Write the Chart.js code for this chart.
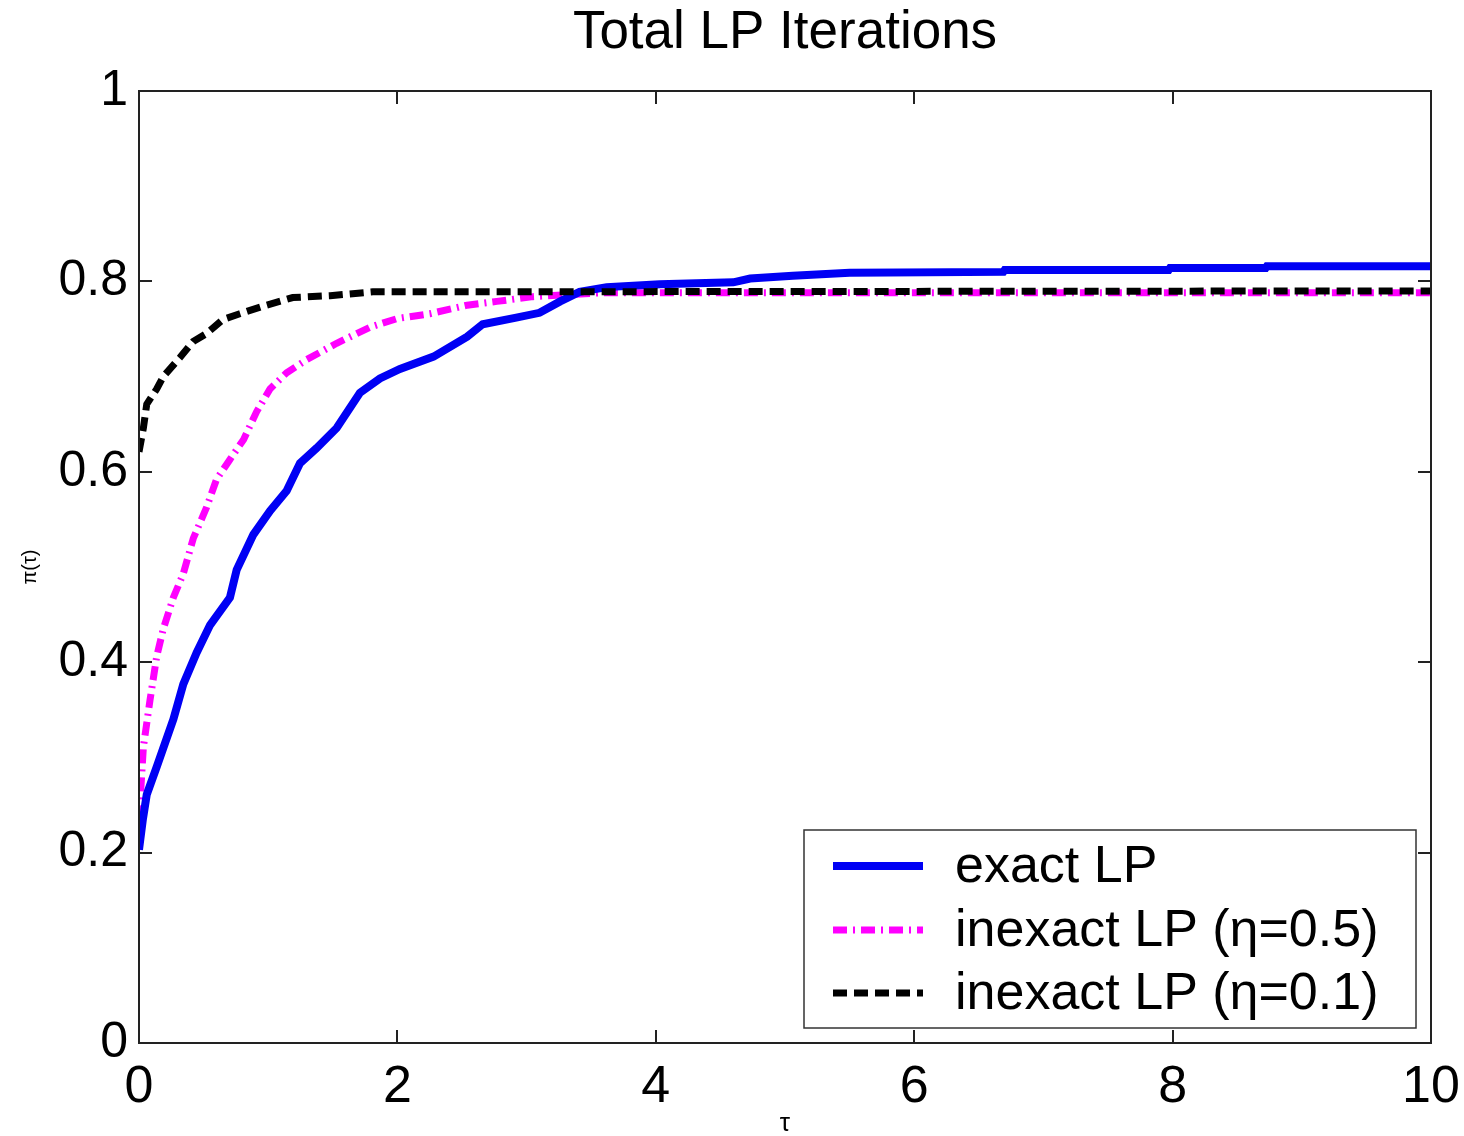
<!DOCTYPE html>
<html><head><meta charset="utf-8">
<script src="https://cdn.jsdelivr.net/npm/chart.js@4.4.1/dist/chart.umd.min.js"></script>
<style>html,body{margin:0;padding:0;background:#fff;}</style>
</head><body>
<canvas id="c" width="1464" height="1136"></canvas>
<script>
const chartTitle = 'Total LP Iterations';
const xAxisTitle = 'τ';
const yAxisTitle = 'π(τ)';
const xTickValues = [0, 2, 4, 6, 8, 10];
const yTickLabels = ['0', '0.2', '0.4', '0.6', '0.8', '1'];
const seriesNames = ['exact LP', 'inexact LP (η=0.5)', 'inexact LP (η=0.1)'];

const exactTau = [0, 0.03, 0.06, 0.137, 0.266, 0.343, 0.446, 0.55, 0.704, 0.756, 0.885, 1.014, 1.143, 1.246, 1.375, 1.53, 1.71, 1.865, 2.02, 2.28, 2.54, 2.66, 2.92, 3.10, 3.26, 3.41, 3.62, 4.03, 4.60, 4.73, 5.06, 5.50, 6.69, 6.70, 7.97, 7.98, 8.72, 8.73, 10];
const exactVal = [0.203, 0.235, 0.261, 0.29, 0.34, 0.377, 0.41, 0.439, 0.468, 0.497, 0.534, 0.559, 0.58, 0.609, 0.625, 0.646, 0.683, 0.698, 0.708, 0.721, 0.742, 0.755, 0.762, 0.767, 0.779, 0.789, 0.794, 0.797, 0.799, 0.803, 0.806, 0.809, 0.810, 0.812, 0.812, 0.814, 0.814, 0.816, 0.816];

const inexact05Tau = [0, 0.034, 0.085, 0.137, 0.188, 0.266, 0.343, 0.42, 0.524, 0.6, 0.704, 0.81, 0.91, 1.014, 1.143, 1.30, 1.53, 1.79, 2.0, 2.25, 2.54, 2.77, 3.05, 3.57, 10];
const inexact05Val = [0.235, 0.311, 0.36, 0.406, 0.435, 0.468, 0.493, 0.53, 0.563, 0.592, 0.613, 0.634, 0.663, 0.687, 0.704, 0.718, 0.735, 0.752, 0.761, 0.766, 0.775, 0.779, 0.784, 0.788, 0.788];

const inexact01Tau = [0, 0.034, 0.06, 0.137, 0.188, 0.317, 0.42, 0.52, 0.65, 0.78, 0.96, 1.19, 1.48, 1.81, 10];
const inexact01Val = [0.621, 0.646, 0.671, 0.687, 0.70, 0.72, 0.737, 0.745, 0.76, 0.766, 0.774, 0.783, 0.785, 0.789, 0.790];

const pts = (xs, ys) => xs.map((x, i) => ({x: x, y: ys[i]}));

const FONT = '"Liberation Sans", Arial, Helvetica, sans-serif';

const framePlugin = {
  id: 'frame',
  afterDatasetsDraw(chart) {
    const {ctx, chartArea: a, scales} = chart;
    ctx.save();
    // title centred over plot area
    ctx.fillStyle = '#000';
    ctx.font = '53px ' + FONT;
    ctx.textAlign = 'center';
    ctx.textBaseline = 'middle';
    ctx.fillText(chartTitle, (a.left + a.right) / 2, 33);

    ctx.strokeStyle = '#222';
    ctx.lineWidth = 2;
    const tl = 13;
    ctx.beginPath();
    xTickValues.forEach(v => {
      const px = Math.round(scales.x.getPixelForValue(v));
      ctx.moveTo(px, a.bottom); ctx.lineTo(px, a.bottom - tl);
      ctx.moveTo(px, a.top); ctx.lineTo(px, a.top + tl);
    });
    scales.y.ticks.forEach(t => {
      const py = Math.round(scales.y.getPixelForValue(t.value));
      ctx.moveTo(a.left, py); ctx.lineTo(a.left + tl, py);
      ctx.moveTo(a.right, py); ctx.lineTo(a.right - tl, py);
    });
    ctx.stroke();
    ctx.strokeRect(a.left, a.top, a.right - a.left, a.bottom - a.top);

    // legend box
    const bx = 804, by = 830, bw = 612, bh = 198;
    ctx.fillStyle = '#fff';
    ctx.fillRect(bx, by, bw, bh);
    ctx.lineWidth = 1.5;
    ctx.strokeStyle = '#333';
    ctx.strokeRect(bx, by, bw, bh);
    const rows = [866, 930, 993];
    [0, 1, 2].forEach((di, i) => {
      const ds = chart.data.datasets[di];
      ctx.save();
      ctx.strokeStyle = ds.borderColor;
      ctx.lineWidth = ds.borderWidth;
      ctx.setLineDash(ds.borderDash || []);
      ctx.lineCap = 'butt';
      ctx.beginPath();
      ctx.moveTo(833, rows[i]); ctx.lineTo(923, rows[i]);
      ctx.stroke();
      ctx.restore();
      ctx.fillStyle = '#000';
      ctx.font = '52px ' + FONT;
      ctx.textBaseline = 'middle';
      ctx.textAlign = 'left';
      ctx.fillText(seriesNames[di], 955, rows[i] + 2);
    });
    ctx.restore();
  }
};

new Chart(document.getElementById('c'), {
  type: 'line',
  data: {
    datasets: [
      {label: seriesNames[0], data: pts(exactTau, exactVal), borderColor: '#0000f4', borderWidth: 8, pointRadius: 0, tension: 0, order: 1},
      {label: seriesNames[1], data: pts(inexact05Tau, inexact05Val), borderColor: '#ff00ff', borderWidth: 7, borderDash: [14, 6, 2, 6], pointRadius: 0, tension: 0, order: 2},
      {label: seriesNames[2], data: pts(inexact01Tau, inexact01Val), borderColor: '#000000', borderWidth: 7, borderDash: [14, 7], pointRadius: 0, tension: 0, order: 0}
    ]
  },
  options: {
    responsive: false,
    animation: false,
    devicePixelRatio: 1,
    layout: {padding: {left: 0, right: 33, top: 91, bottom: 0}},
    plugins: {
      legend: {display: false},
      tooltip: {enabled: false},
      title: {display: false}
    },
    scales: {
      x: {
        type: 'linear', min: 0, max: 10,
        afterBuildTicks: s => { s.ticks = xTickValues.map(v => ({value: v})); },
        ticks: {color: '#000', font: {family: FONT, size: 52}, padding: 13, maxRotation: 0, callback: v => String(v)},
        grid: {display: false, drawTicks: false},
        border: {display: false},
        title: {display: true, text: xAxisTitle, color: '#000', font: {family: FONT, size: 26}, padding: {top: 0, bottom: -3}},
        afterFit: s => { s.height = 93; s.paddingLeft = 0; s.paddingRight = 0; }
      },
      y: {
        type: 'linear', min: 0, max: 1,
        ticks: {stepSize: 0.2, color: '#000', font: {family: FONT, size: 50}, padding: 11, callback: (v, i) => yTickLabels[i]},
        grid: {display: false, drawTicks: false},
        border: {display: false},
        title: {display: true, text: yAxisTitle, color: '#000', font: {family: FONT, size: 20}, padding: {top: 18, bottom: 0}},
        afterFit: s => { s.width = 139; s.paddingTop = 0; s.paddingBottom = 0; }
      }
    }
  },
  plugins: [framePlugin]
});
</script>
</body></html>
